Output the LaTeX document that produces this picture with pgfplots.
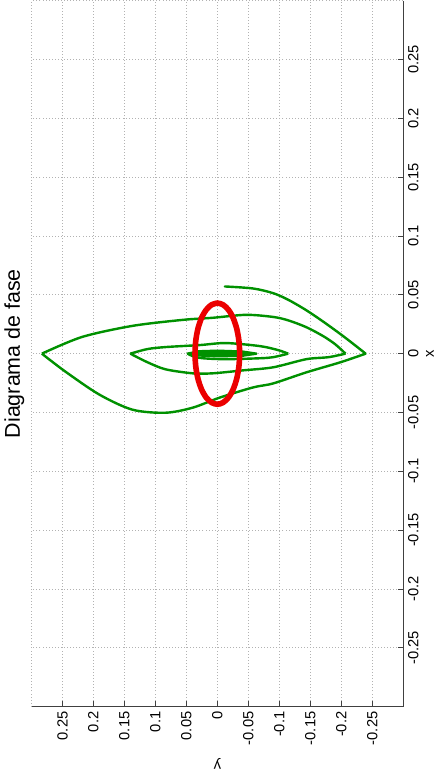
\documentclass[border=0pt]{standalone}
\usepackage{fontspec}
\setmainfont{Liberation Sans}
\usepackage{pgfplots}
\pgfplotsset{compat=1.18}
\definecolor{trajgreen}{RGB}{0,145,0}
\definecolor{ringred}{RGB}{235,0,0}
\begin{document}
\begin{tikzpicture}[rotate=90, transform shape]
\begin{axis}[
    scale only axis,
    width=528pt, height=278pt,
    xmin=-0.3, xmax=0.3, ymin=-0.3, ymax=0.3,
    axis x line*=bottom, axis y line*=left,
    axis line style={black!75, line width=0.6pt},
    tick align=inside, major tick length=4pt,
    tick style={black!75, line width=0.6pt},
    xtick={-0.25,-0.2,-0.15,-0.1,-0.05,0,0.05,0.1,0.15,0.2,0.25},
    ytick={-0.25,-0.2,-0.15,-0.1,-0.05,0,0.05,0.1,0.15,0.2,0.25},
    xticklabels={-0.25,-0.2,-0.15,-0.1,-0.05,0,0.05,0.1,0.15,0.2,0.25},
    yticklabels={-0.25,-0.2,-0.15,-0.1,-0.05,0,0.05,0.1,0.15,0.2,0.25},
    extra y ticks={0.3}, extra y tick labels={},
    extra x ticks={0.3}, extra x tick labels={},
    extra tick style={grid=major, major tick length=0pt},
    xmajorgrids, ymajorgrids,
    grid style={gray!60, line width=0.5pt, dash pattern=on 0.6pt off 1.7pt},
    ticklabel style={font=\fontsize{11}{13}\selectfont},
    xticklabel style={anchor=north, inner sep=0pt, yshift=-3.5pt},
    yticklabel style={anchor=east, inner sep=0pt, xshift=-3.5pt},
    xlabel={x}, ylabel={y},
    label style={font=\fontsize{11}{13}\selectfont},
    xlabel style={at={(axis description cs:0.5,0)}, anchor=center, yshift=-20pt},
    ylabel style={at={(axis description cs:-0.0814,0.5)}, anchor=center},
    title={Diagrama de fase},
    every axis title shift=0pt,
    title style={at={(axis description cs:0.5,1)}, anchor=center, yshift=12.75pt, font=\fontsize{16}{18}\selectfont},
    clip=false,
]
% trajectory, one smooth arc from tip to tip
\addplot[trajgreen, line width=1.8pt, line cap=round, smooth] coordinates {
(0.0571,-0.0122) (0.0554,-0.0576) (0.0514,-0.0901) (0.0458,-0.1144) (0.0369,-0.1436)
(0.0271,-0.1712) (0.0166,-0.1988) (0.0081,-0.2199) (0,-0.2394)
};
\addplot[trajgreen, line width=1.8pt, smooth] coordinates {
(0,-0.2394) (-0.0073,-0.1988) (-0.0159,-0.1436) (-0.0253,-0.0901) (-0.0287,-0.0576) (-0.0373,-0.0041)
(-0.0459,0.0398) (-0.0502,0.0836) (-0.0476,0.1371) (-0.0347,0.1907) (-0.0150,0.2459) (0,0.2832)
};
\addplot[trajgreen, line width=1.8pt, smooth] coordinates {
(0,0.2832) (0.0142,0.2183) (0.0236,0.1371) (0.0287,0.0560) (0.0305,0.0073) (0.0330,-0.0463)
(0.0312,-0.0901) (0.0283,-0.1144) (0.0225,-0.1436) (0.0148,-0.1712) (0.0078,-0.1907) (0,-0.2069)
};
\addplot[trajgreen, line width=1.8pt, smooth] coordinates {
(0,-0.2069) (-0.0030,-0.1793) (-0.0047,-0.1436) (-0.0116,-0.0901) (-0.0142,-0.0414) (-0.0167,0.0073)
(-0.0167,0.0398) (-0.0133,0.0836) (-0.0073,0.1128) (0,0.1404)
};
\addplot[trajgreen, line width=1.8pt, smooth] coordinates {
(0,0.1404) (0.0039,0.1128) (0.0056,0.0836) (0.0073,0.0284) (0.0090,-0.0138) (0.0064,-0.0690) (0.0030,-0.0982) (0,-0.1144)
};
\addplot[trajgreen, line width=1.8pt, smooth] coordinates {
(0,-0.1144) (-0.0030,-0.0901) (-0.0039,-0.0690) (-0.0047,-0.0138) (-0.0039,0.0235) (-0.0021,0.0398) (0,0.0479)
};
\addplot[trajgreen, line width=1.8pt, line join=round, line cap=round] coordinates {
(0,0.0479) (0.0020,0.030) (0.0025,0) (0.0018,-0.040) (0,-0.063) (-0.0018,-0.040) (-0.0022,0) (-0.0015,0.030) (0,0.042)
(0.0015,0.02) (0.0015,-0.03) (0,-0.058) (-0.0012,-0.03) (-0.0012,0.01) (0,0.035)
(0.0010,0) (0.0008,-0.04) (0,-0.05) (-0.0006,-0.02) (0,0.02) (0.0004,-0.01)
};
% ring
\addplot[ringred, line width=4.2pt, smooth] coordinates {
(0.043,0) (0.04153,0.00932) (0.03724,0.018) (0.03041,0.02546) (0.0215,0.03118) (0.01113,0.03477)
(0,0.036) (-0.01113,0.03477) (-0.0215,0.03118) (-0.03041,0.02546) (-0.03724,0.018) (-0.04153,0.00932)
(-0.043,0) (-0.04153,-0.00932) (-0.03724,-0.018) (-0.03041,-0.02546) (-0.0215,-0.03118) (-0.01113,-0.03477)
(0,-0.036) (0.01113,-0.03477) (0.0215,-0.03118) (0.03041,-0.02546) (0.03724,-0.018) (0.04153,-0.00932)
(0.043,0) (0.04153,0.00932)
};
\end{axis}
\end{tikzpicture}
\end{document}
